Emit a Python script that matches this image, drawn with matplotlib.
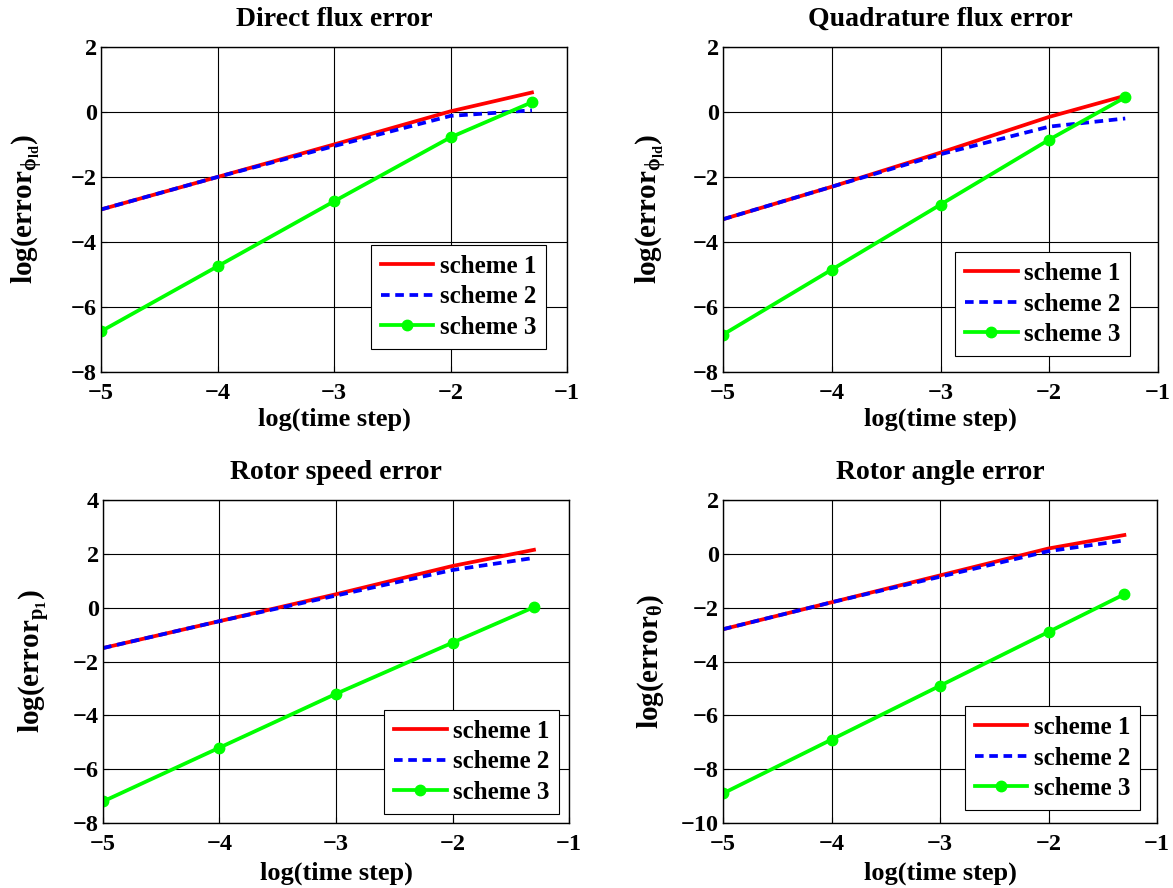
import matplotlib
matplotlib.use("Agg")
import matplotlib.pyplot as plt

plt.rcParams['font.family'] = ['Liberation Serif', 'DejaVu Serif']
plt.rcParams['font.weight'] = 'bold'
plt.rcParams['mathtext.fontset'] = 'custom'
plt.rcParams['mathtext.rm'] = 'Liberation Serif:bold'
plt.rcParams['mathtext.it'] = 'Liberation Serif:bold'
plt.rcParams['mathtext.bf'] = 'Liberation Serif:bold'

# log10 of the time steps
log_dt = [-5, -4, -3, -2, -1.301]

titles = ["Direct flux error", "Quadrature flux error",
          "Rotor speed error", "Rotor angle error"]
ylabels = [r"log(error$_{\phi_{ld}}$)", r"log(error$_{\phi_{ld}}$)",
           r"log(error$_{p_1}$)", r"log(error$_{\theta}$)"]
legend_names = ["scheme 1", "scheme 2", "scheme 3"]

# direct flux
direct_s1 = [-3.0, -2.0, -1.0, 0.02, 0.6]
direct_s2 = [-3.0, -2.0, -1.05, -0.12, 0.05]
direct_s3 = [-6.75, -4.75, -2.75, -0.78, 0.3]
# quadrature flux
quad_s1 = [-3.3, -2.3, -1.25, -0.15, 0.5]
quad_s2 = [-3.3, -2.3, -1.3, -0.45, -0.2]
quad_s3 = [-6.85, -4.85, -2.85, -0.85, 0.45]
# rotor speed
speed_s1 = [-1.5, -0.5, 0.5, 1.55, 2.15]
speed_s2 = [-1.5, -0.5, 0.45, 1.4, 1.85]
speed_s3 = [-7.2, -5.2, -3.2, -1.3, 0.02]
# rotor angle
angle_s1 = [-2.8, -1.8, -0.8, 0.2, 0.7]
angle_s2 = [-2.8, -1.8, -0.85, 0.1, 0.5]
angle_s3 = [-8.9, -6.9, -4.9, -2.9, -1.5]

series = [(direct_s1, direct_s2, direct_s3),
          (quad_s1, quad_s2, quad_s3),
          (speed_s1, speed_s2, speed_s3),
          (angle_s1, angle_s2, angle_s3)]
ylims = [(-8, 2), (-8, 2), (-8, 4), (-10, 2)]

# layout, in figure fractions (left, bottom, width, height)
boxes = [(0.0861, 0.5811, 0.3973, 0.366),
         (0.6164, 0.5811, 0.3708, 0.366),
         (0.0878, 0.0732, 0.3973, 0.3637),
         (0.6164, 0.0732, 0.3700, 0.3637)]
legend_anchor = [(0.955, 0.071), (0.936, 0.049), (0.979, 0.028), (0.961, 0.040)]
ylabel_x = [-0.12, -0.125, -0.11, -0.132]
xlabel_y = [-0.108, -0.111, -0.121, -0.118]

fig = plt.figure(figsize=(11.73, 8.88), dpi=100)

for i in range(4):
    ax = fig.add_axes(boxes[i])
    s1, s2, s3 = series[i]
    ax.plot(log_dt, s1, color='#ff0000', lw=2.7, label=legend_names[0])
    ax.plot(log_dt, s2, color='#0000ff', lw=2.7, dashes=(2.3, 1.5), label=legend_names[1])
    ax.plot(log_dt, s3, color='#00ff00', lw=2.7, marker='o', markersize=7.5,
            label=legend_names[2])

    ax.set_xlim(-5, -1)
    ax.set_ylim(*ylims[i])
    ax.set_xticks(range(-5, 0))
    ax.set_yticks(range(ylims[i][0], ylims[i][1] + 1, 2))
    ax.grid(True, color='black', lw=0.8, ls='-')
    ax.set_axisbelow(True)
    ax.tick_params(direction='in', length=4, labelsize=17.5)
    ax.tick_params(axis='x', pad=8)
    ax.tick_params(axis='y', pad=3)
    for sp in ax.spines.values():
        sp.set_linewidth(1.0)

    ax.set_title(titles[i], fontsize=20, fontweight='bold', pad=15)
    ax.set_xlabel("log(time step)", fontsize=19, fontweight='bold')
    ax.set_ylabel(ylabels[i], fontsize=21, fontweight='bold')
    ax.xaxis.set_label_coords(0.5, xlabel_y[i])
    ax.yaxis.set_label_coords(ylabel_x[i], 0.5)

    leg = ax.legend(loc='lower right', bbox_to_anchor=legend_anchor[i],
                    borderaxespad=0, fontsize=18, fancybox=False, framealpha=1,
                    edgecolor='black', handlelength=2.1, handletextpad=0.25,
                    labelspacing=0.3, borderpad=0.4)
    leg.get_frame().set_linewidth(0.8)

fig.savefig("out.png", dpi=100)
